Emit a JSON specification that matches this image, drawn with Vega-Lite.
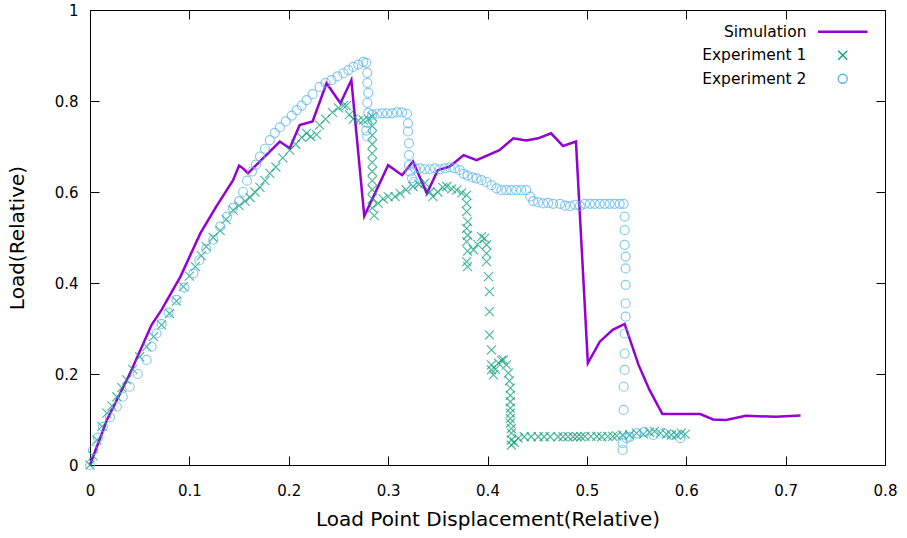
{
"$schema": "https://vega.github.io/schema/vega-lite/v6.json",
"width": 795, "height": 455,
"autosize": {"type": "none"},
"padding": {"left": 90, "top": 10, "right": 22, "bottom": 73},
"background": "white",
"config": {
  "view": {"stroke": "#000", "strokeWidth": 1},
  "font": "DejaVu Sans",
  "axis": {"grid": false, "domain": false, "tickColor": "#000", "tickSize": -9, "tickWidth": 1, "labelFontSize": 15, "labelColor": "#000", "titleFontSize": 20, "titleFontWeight": "normal", "titleColor": "#000"},
  "legend": {"orient": "none", "legendX": 745, "legendY": 14, "columns": 1, "title": null, "labelAlign": "right", "labelFontSize": 15.5, "labelColor": "#000", "symbolSize": 81, "labelOffset": -44, "symbolOffset": 0, "rowPadding": 6.5, "padding": 0}
},
"data": {"values": [
{"series":"Simulation","x":0,"y":0},{"series":"Simulation","x":0.017,"y":0.099},{"series":"Simulation","x":0.04,"y":0.2},{"series":"Simulation","x":0.062,"y":0.308},{"series":"Simulation","x":0.072,"y":0.341},{"series":"Simulation","x":0.091,"y":0.414},{"series":"Simulation","x":0.111,"y":0.509},{"series":"Simulation","x":0.127,"y":0.568},{"series":"Simulation","x":0.144,"y":0.626},{"series":"Simulation","x":0.15,"y":0.658},{"series":"Simulation","x":0.154,"y":0.652},{"series":"Simulation","x":0.159,"y":0.641},{"series":"Simulation","x":0.191,"y":0.711},{"series":"Simulation","x":0.201,"y":0.696},{"series":"Simulation","x":0.211,"y":0.747},{"series":"Simulation","x":0.224,"y":0.755},{"series":"Simulation","x":0.238,"y":0.839},{"series":"Simulation","x":0.252,"y":0.795},{"series":"Simulation","x":0.263,"y":0.846},{"series":"Simulation","x":0.276,"y":0.547},{"series":"Simulation","x":0.3,"y":0.659},{"series":"Simulation","x":0.314,"y":0.637},{"series":"Simulation","x":0.325,"y":0.667},{"series":"Simulation","x":0.339,"y":0.597},{"series":"Simulation","x":0.35,"y":0.648},{"series":"Simulation","x":0.362,"y":0.656},{"series":"Simulation","x":0.376,"y":0.681},{"series":"Simulation","x":0.389,"y":0.67},{"series":"Simulation","x":0.412,"y":0.692},{"series":"Simulation","x":0.426,"y":0.718},{"series":"Simulation","x":0.439,"y":0.713},{"series":"Simulation","x":0.451,"y":0.718},{"series":"Simulation","x":0.464,"y":0.729},{"series":"Simulation","x":0.476,"y":0.701},{"series":"Simulation","x":0.489,"y":0.711},{"series":"Simulation","x":0.501,"y":0.224},{"series":"Simulation","x":0.513,"y":0.271},{"series":"Simulation","x":0.526,"y":0.297},{"series":"Simulation","x":0.538,"y":0.31},{"series":"Simulation","x":0.552,"y":0.22},{"series":"Simulation","x":0.563,"y":0.165},{"series":"Simulation","x":0.576,"y":0.112},{"series":"Simulation","x":0.614,"y":0.112},{"series":"Simulation","x":0.627,"y":0.1},{"series":"Simulation","x":0.64,"y":0.099},{"series":"Simulation","x":0.66,"y":0.108},{"series":"Simulation","x":0.69,"y":0.106},{"series":"Simulation","x":0.715,"y":0.109},
{"series":"Experiment 1","x":0,"y":0},{"series":"Experiment 1","x":0.003,"y":0.02},{"series":"Experiment 1","x":0.007,"y":0.055},{"series":"Experiment 1","x":0.012,"y":0.085},{"series":"Experiment 1","x":0.017,"y":0.114},{"series":"Experiment 1","x":0.022,"y":0.13},{"series":"Experiment 1","x":0.027,"y":0.15},{"series":"Experiment 1","x":0.032,"y":0.17},{"series":"Experiment 1","x":0.037,"y":0.187},{"series":"Experiment 1","x":0.043,"y":0.21},{"series":"Experiment 1","x":0.05,"y":0.238},{"series":"Experiment 1","x":0.057,"y":0.26},{"series":"Experiment 1","x":0.064,"y":0.282},{"series":"Experiment 1","x":0.072,"y":0.308},{"series":"Experiment 1","x":0.08,"y":0.333},{"series":"Experiment 1","x":0.087,"y":0.36},{"series":"Experiment 1","x":0.094,"y":0.392},{"series":"Experiment 1","x":0.1,"y":0.415},{"series":"Experiment 1","x":0.106,"y":0.436},{"series":"Experiment 1","x":0.112,"y":0.46},{"series":"Experiment 1","x":0.117,"y":0.48},{"series":"Experiment 1","x":0.124,"y":0.5},{"series":"Experiment 1","x":0.131,"y":0.515},{"series":"Experiment 1","x":0.137,"y":0.54},{"series":"Experiment 1","x":0.144,"y":0.56},{"series":"Experiment 1","x":0.15,"y":0.57},{"series":"Experiment 1","x":0.156,"y":0.58},{"series":"Experiment 1","x":0.161,"y":0.588},{"series":"Experiment 1","x":0.166,"y":0.6},{"series":"Experiment 1","x":0.171,"y":0.61},{"series":"Experiment 1","x":0.176,"y":0.625},{"series":"Experiment 1","x":0.181,"y":0.641},{"series":"Experiment 1","x":0.187,"y":0.655},{"series":"Experiment 1","x":0.194,"y":0.675},{"series":"Experiment 1","x":0.201,"y":0.692},{"series":"Experiment 1","x":0.207,"y":0.705},{"series":"Experiment 1","x":0.213,"y":0.72},{"series":"Experiment 1","x":0.218,"y":0.729},{"series":"Experiment 1","x":0.222,"y":0.722},{"series":"Experiment 1","x":0.228,"y":0.726},{"series":"Experiment 1","x":0.231,"y":0.747},{"series":"Experiment 1","x":0.237,"y":0.76},{"series":"Experiment 1","x":0.244,"y":0.775},{"series":"Experiment 1","x":0.25,"y":0.785},{"series":"Experiment 1","x":0.255,"y":0.79},{"series":"Experiment 1","x":0.258,"y":0.79},{"series":"Experiment 1","x":0.261,"y":0.77},{"series":"Experiment 1","x":0.265,"y":0.76},{"series":"Experiment 1","x":0.27,"y":0.757},{"series":"Experiment 1","x":0.275,"y":0.758},{"series":"Experiment 1","x":0.28,"y":0.76},{"series":"Experiment 1","x":0.284,"y":0.766},
{"series":"Experiment 1","x":0.284,"y":0.745},{"series":"Experiment 1","x":0.284,"y":0.725},{"series":"Experiment 1","x":0.284,"y":0.705},{"series":"Experiment 1","x":0.284,"y":0.685},{"series":"Experiment 1","x":0.284,"y":0.665},{"series":"Experiment 1","x":0.284,"y":0.645},{"series":"Experiment 1","x":0.284,"y":0.625},{"series":"Experiment 1","x":0.284,"y":0.605},{"series":"Experiment 1","x":0.284,"y":0.585},{"series":"Experiment 1","x":0.284,"y":0.565},{"series":"Experiment 1","x":0.286,"y":0.548},
{"series":"Experiment 1","x":0.29,"y":0.575},{"series":"Experiment 1","x":0.295,"y":0.585},{"series":"Experiment 1","x":0.3,"y":0.59},{"series":"Experiment 1","x":0.307,"y":0.59},{"series":"Experiment 1","x":0.312,"y":0.597},{"series":"Experiment 1","x":0.318,"y":0.605},{"series":"Experiment 1","x":0.325,"y":0.612},{"series":"Experiment 1","x":0.331,"y":0.617},{"series":"Experiment 1","x":0.337,"y":0.62},{"series":"Experiment 1","x":0.342,"y":0.6},{"series":"Experiment 1","x":0.345,"y":0.59},{"series":"Experiment 1","x":0.35,"y":0.6},{"series":"Experiment 1","x":0.355,"y":0.61},{"series":"Experiment 1","x":0.359,"y":0.612},{"series":"Experiment 1","x":0.364,"y":0.607},{"series":"Experiment 1","x":0.369,"y":0.604},{"series":"Experiment 1","x":0.374,"y":0.598},{"series":"Experiment 1","x":0.379,"y":0.593},
{"series":"Experiment 1","x":0.379,"y":0.575},{"series":"Experiment 1","x":0.379,"y":0.557},{"series":"Experiment 1","x":0.38,"y":0.535},{"series":"Experiment 1","x":0.379,"y":0.52},{"series":"Experiment 1","x":0.38,"y":0.505},{"series":"Experiment 1","x":0.379,"y":0.491},{"series":"Experiment 1","x":0.38,"y":0.47},{"series":"Experiment 1","x":0.379,"y":0.447},{"series":"Experiment 1","x":0.38,"y":0.436},{"series":"Experiment 1","x":0.386,"y":0.473},{"series":"Experiment 1","x":0.39,"y":0.485},{"series":"Experiment 1","x":0.394,"y":0.502},{"series":"Experiment 1","x":0.397,"y":0.498},{"series":"Experiment 1","x":0.399,"y":0.484},{"series":"Experiment 1","x":0.399,"y":0.465},{"series":"Experiment 1","x":0.399,"y":0.447},{"series":"Experiment 1","x":0.401,"y":0.414},{"series":"Experiment 1","x":0.402,"y":0.381},{"series":"Experiment 1","x":0.402,"y":0.337},{"series":"Experiment 1","x":0.402,"y":0.286},{"series":"Experiment 1","x":0.404,"y":0.253},{"series":"Experiment 1","x":0.404,"y":0.22},{"series":"Experiment 1","x":0.404,"y":0.209},{"series":"Experiment 1","x":0.406,"y":0.198},{"series":"Experiment 1","x":0.408,"y":0.21},{"series":"Experiment 1","x":0.411,"y":0.224},{"series":"Experiment 1","x":0.414,"y":0.23},{"series":"Experiment 1","x":0.416,"y":0.231},{"series":"Experiment 1","x":0.419,"y":0.22},{"series":"Experiment 1","x":0.421,"y":0.202},{"series":"Experiment 1","x":0.422,"y":0.185},{"series":"Experiment 1","x":0.423,"y":0.169},{"series":"Experiment 1","x":0.423,"y":0.153},{"series":"Experiment 1","x":0.423,"y":0.139},{"series":"Experiment 1","x":0.423,"y":0.125},{"series":"Experiment 1","x":0.423,"y":0.114},{"series":"Experiment 1","x":0.423,"y":0.102},{"series":"Experiment 1","x":0.423,"y":0.092},{"series":"Experiment 1","x":0.424,"y":0.08},{"series":"Experiment 1","x":0.424,"y":0.07},{"series":"Experiment 1","x":0.424,"y":0.055},{"series":"Experiment 1","x":0.424,"y":0.044},{"series":"Experiment 1","x":0.427,"y":0.05},{"series":"Experiment 1","x":0.431,"y":0.059},{"series":"Experiment 1","x":0.437,"y":0.062},
{"series":"Experiment 1","x":0.444,"y":0.062},{"series":"Experiment 1","x":0.451,"y":0.062},{"series":"Experiment 1","x":0.457,"y":0.062},{"series":"Experiment 1","x":0.463,"y":0.062},{"series":"Experiment 1","x":0.471,"y":0.062},{"series":"Experiment 1","x":0.476,"y":0.062},{"series":"Experiment 1","x":0.481,"y":0.062},{"series":"Experiment 1","x":0.486,"y":0.062},{"series":"Experiment 1","x":0.49,"y":0.062},{"series":"Experiment 1","x":0.494,"y":0.062},{"series":"Experiment 1","x":0.498,"y":0.063},{"series":"Experiment 1","x":0.504,"y":0.063},{"series":"Experiment 1","x":0.51,"y":0.063},{"series":"Experiment 1","x":0.515,"y":0.062},{"series":"Experiment 1","x":0.521,"y":0.063},{"series":"Experiment 1","x":0.526,"y":0.063},{"series":"Experiment 1","x":0.53,"y":0.064},{"series":"Experiment 1","x":0.536,"y":0.066},{"series":"Experiment 1","x":0.543,"y":0.066},{"series":"Experiment 1","x":0.55,"y":0.07},{"series":"Experiment 1","x":0.557,"y":0.068},{"series":"Experiment 1","x":0.563,"y":0.072},{"series":"Experiment 1","x":0.568,"y":0.074},{"series":"Experiment 1","x":0.574,"y":0.07},{"series":"Experiment 1","x":0.58,"y":0.068},{"series":"Experiment 1","x":0.585,"y":0.066},{"series":"Experiment 1","x":0.59,"y":0.066},{"series":"Experiment 1","x":0.595,"y":0.07},{"series":"Experiment 1","x":0.599,"y":0.068},
{"series":"Experiment 2","x":0,"y":0},{"series":"Experiment 2","x":0.003,"y":0.033},{"series":"Experiment 2","x":0.008,"y":0.06},{"series":"Experiment 2","x":0.013,"y":0.084},{"series":"Experiment 2","x":0.02,"y":0.105},{"series":"Experiment 2","x":0.027,"y":0.128},{"series":"Experiment 2","x":0.033,"y":0.15},{"series":"Experiment 2","x":0.04,"y":0.172},{"series":"Experiment 2","x":0.048,"y":0.2},{"series":"Experiment 2","x":0.057,"y":0.231},{"series":"Experiment 2","x":0.062,"y":0.26},{"series":"Experiment 2","x":0.067,"y":0.289},{"series":"Experiment 2","x":0.072,"y":0.31},{"series":"Experiment 2","x":0.079,"y":0.335},{"series":"Experiment 2","x":0.087,"y":0.363},{"series":"Experiment 2","x":0.095,"y":0.39},{"series":"Experiment 2","x":0.104,"y":0.421},{"series":"Experiment 2","x":0.11,"y":0.45},{"series":"Experiment 2","x":0.117,"y":0.475},{"series":"Experiment 2","x":0.124,"y":0.495},{"series":"Experiment 2","x":0.131,"y":0.524},{"series":"Experiment 2","x":0.138,"y":0.546},{"series":"Experiment 2","x":0.144,"y":0.565},{"series":"Experiment 2","x":0.15,"y":0.58},{"series":"Experiment 2","x":0.154,"y":0.6},{"series":"Experiment 2","x":0.158,"y":0.625},{"series":"Experiment 2","x":0.163,"y":0.645},{"series":"Experiment 2","x":0.167,"y":0.66},{"series":"Experiment 2","x":0.171,"y":0.678},{"series":"Experiment 2","x":0.176,"y":0.695},{"series":"Experiment 2","x":0.181,"y":0.714},{"series":"Experiment 2","x":0.186,"y":0.73},{"series":"Experiment 2","x":0.191,"y":0.742},{"series":"Experiment 2","x":0.197,"y":0.755},{"series":"Experiment 2","x":0.203,"y":0.768},{"series":"Experiment 2","x":0.208,"y":0.78},{"series":"Experiment 2","x":0.213,"y":0.79},{"series":"Experiment 2","x":0.218,"y":0.802},{"series":"Experiment 2","x":0.224,"y":0.815},{"series":"Experiment 2","x":0.231,"y":0.831},{"series":"Experiment 2","x":0.237,"y":0.84},{"series":"Experiment 2","x":0.243,"y":0.846},{"series":"Experiment 2","x":0.249,"y":0.854},{"series":"Experiment 2","x":0.255,"y":0.861},{"series":"Experiment 2","x":0.26,"y":0.868},{"series":"Experiment 2","x":0.265,"y":0.875},{"series":"Experiment 2","x":0.27,"y":0.88},{"series":"Experiment 2","x":0.275,"y":0.886},{"series":"Experiment 2","x":0.278,"y":0.884},
{"series":"Experiment 2","x":0.279,"y":0.862},{"series":"Experiment 2","x":0.279,"y":0.84},{"series":"Experiment 2","x":0.28,"y":0.818},{"series":"Experiment 2","x":0.279,"y":0.796},{"series":"Experiment 2","x":0.28,"y":0.774},{"series":"Experiment 2","x":0.279,"y":0.752},{"series":"Experiment 2","x":0.278,"y":0.735},{"series":"Experiment 2","x":0.279,"y":0.722},
{"series":"Experiment 2","x":0.284,"y":0.77},{"series":"Experiment 2","x":0.289,"y":0.772},{"series":"Experiment 2","x":0.294,"y":0.773},{"series":"Experiment 2","x":0.299,"y":0.773},{"series":"Experiment 2","x":0.304,"y":0.773},{"series":"Experiment 2","x":0.309,"y":0.775},{"series":"Experiment 2","x":0.314,"y":0.775},{"series":"Experiment 2","x":0.319,"y":0.772},
{"series":"Experiment 2","x":0.32,"y":0.751},{"series":"Experiment 2","x":0.32,"y":0.733},{"series":"Experiment 2","x":0.321,"y":0.707},{"series":"Experiment 2","x":0.321,"y":0.681},{"series":"Experiment 2","x":0.321,"y":0.659},{"series":"Experiment 2","x":0.322,"y":0.645},{"series":"Experiment 2","x":0.324,"y":0.63},{"series":"Experiment 2","x":0.326,"y":0.622},
{"series":"Experiment 2","x":0.327,"y":0.652},{"series":"Experiment 2","x":0.332,"y":0.652},{"series":"Experiment 2","x":0.337,"y":0.65},{"series":"Experiment 2","x":0.342,"y":0.65},{"series":"Experiment 2","x":0.347,"y":0.652},{"series":"Experiment 2","x":0.352,"y":0.65},{"series":"Experiment 2","x":0.357,"y":0.652},{"series":"Experiment 2","x":0.362,"y":0.654},{"series":"Experiment 2","x":0.367,"y":0.652},{"series":"Experiment 2","x":0.372,"y":0.648},{"series":"Experiment 2","x":0.376,"y":0.64},{"series":"Experiment 2","x":0.38,"y":0.636},{"series":"Experiment 2","x":0.385,"y":0.632},{"series":"Experiment 2","x":0.389,"y":0.63},{"series":"Experiment 2","x":0.394,"y":0.626},{"series":"Experiment 2","x":0.399,"y":0.622},{"series":"Experiment 2","x":0.404,"y":0.615},{"series":"Experiment 2","x":0.409,"y":0.608},{"series":"Experiment 2","x":0.414,"y":0.604},{"series":"Experiment 2","x":0.419,"y":0.604},{"series":"Experiment 2","x":0.424,"y":0.604},{"series":"Experiment 2","x":0.429,"y":0.604},{"series":"Experiment 2","x":0.434,"y":0.604},{"series":"Experiment 2","x":0.439,"y":0.604},{"series":"Experiment 2","x":0.443,"y":0.59},{"series":"Experiment 2","x":0.446,"y":0.58},{"series":"Experiment 2","x":0.451,"y":0.577},{"series":"Experiment 2","x":0.456,"y":0.575},{"series":"Experiment 2","x":0.461,"y":0.576},{"series":"Experiment 2","x":0.466,"y":0.574},{"series":"Experiment 2","x":0.473,"y":0.574},{"series":"Experiment 2","x":0.478,"y":0.57},{"series":"Experiment 2","x":0.483,"y":0.569},{"series":"Experiment 2","x":0.488,"y":0.572},{"series":"Experiment 2","x":0.493,"y":0.569},{"series":"Experiment 2","x":0.498,"y":0.574},{"series":"Experiment 2","x":0.503,"y":0.574},{"series":"Experiment 2","x":0.508,"y":0.574},{"series":"Experiment 2","x":0.513,"y":0.574},{"series":"Experiment 2","x":0.518,"y":0.574},{"series":"Experiment 2","x":0.523,"y":0.574},{"series":"Experiment 2","x":0.528,"y":0.574},{"series":"Experiment 2","x":0.533,"y":0.574},{"series":"Experiment 2","x":0.537,"y":0.574},
{"series":"Experiment 2","x":0.538,"y":0.546},{"series":"Experiment 2","x":0.538,"y":0.516},{"series":"Experiment 2","x":0.538,"y":0.484},{"series":"Experiment 2","x":0.539,"y":0.458},{"series":"Experiment 2","x":0.539,"y":0.432},{"series":"Experiment 2","x":0.539,"y":0.396},{"series":"Experiment 2","x":0.539,"y":0.355},{"series":"Experiment 2","x":0.539,"y":0.326},{"series":"Experiment 2","x":0.538,"y":0.289},{"series":"Experiment 2","x":0.538,"y":0.245},{"series":"Experiment 2","x":0.538,"y":0.209},{"series":"Experiment 2","x":0.537,"y":0.172},{"series":"Experiment 2","x":0.537,"y":0.121},
{"series":"Experiment 2","x":0.536,"y":0.033},{"series":"Experiment 2","x":0.536,"y":0.048},{"series":"Experiment 2","x":0.54,"y":0.059},{"series":"Experiment 2","x":0.543,"y":0.062},{"series":"Experiment 2","x":0.55,"y":0.07},{"series":"Experiment 2","x":0.558,"y":0.073},{"series":"Experiment 2","x":0.567,"y":0.066},{"series":"Experiment 2","x":0.577,"y":0.07},{"series":"Experiment 2","x":0.585,"y":0.066},{"series":"Experiment 2","x":0.594,"y":0.059}
]},
"layer": [
  {
    "transform": [{"filter": "datum.series === 'Simulation'"}],
    "mark": {"type": "line", "strokeWidth": 2.5},
    "encoding": {
      "x": {"field": "x", "type": "quantitative", "scale": {"domain": [0, 0.8], "nice": false, "zero": false},
            "axis": {"orient": "bottom", "title": "Load Point Displacement(Relative)", "values": [0, 0.1, 0.2, 0.3, 0.4, 0.5, 0.6, 0.7, 0.8], "format": ".1~f", "labelPadding": 27, "titlePadding": 11, "labelFlush": false}},
      "y": {"field": "y", "type": "quantitative", "scale": {"domain": [0, 1], "nice": false},
            "axis": {"orient": "left", "title": "Load(Relative)", "values": [0, 0.2, 0.4, 0.6, 0.8, 1], "format": ".1~f", "labelPadding": 21, "titlePadding": 27}},
      "color": {"field": "series", "type": "nominal",
                "scale": {"domain": ["Simulation", "Experiment 1", "Experiment 2"], "range": ["#9400d3", "#009e73", "#56b4e9"]},
                "legend": {"encode": {"symbols": {"update": {"size": {"value": 81}, "strokeWidth": {"signal": "datum.value === 'Simulation' ? 2.5 : 1.3"}}}}}}
    }
  },
  {
    "transform": [{"filter": "datum.series !== 'Simulation'"}],
    "mark": {"type": "point", "filled": false, "strokeWidth": 1.2, "size": 81},
    "encoding": {
      "x": {"field": "x", "type": "quantitative", "axis": {"orient": "top", "labels": false, "title": null, "values": [0, 0.1, 0.2, 0.3, 0.4, 0.5, 0.6, 0.7, 0.8]}},
      "y": {"field": "y", "type": "quantitative", "axis": {"orient": "right", "labels": false, "title": null, "values": [0, 0.2, 0.4, 0.6, 0.8, 1]}},
      "color": {"field": "series", "type": "nominal"},
      "shape": {"field": "series", "type": "nominal",
                "scale": {"domain": ["Simulation", "Experiment 1", "Experiment 2"], "range": ["M-5.5,0L5.5,0", "M-1,-1L1,1M1,-1L-1,1", "circle"]},
                "legend": {"encode": {"symbols": {"update": {"size": {"value": 81}, "strokeWidth": {"signal": "datum.value === 'Simulation' ? 2.5 : 1.3"}}}}}}
    }
  }
],
"resolve": {"axis": {"x": "independent", "y": "independent"}}
}
